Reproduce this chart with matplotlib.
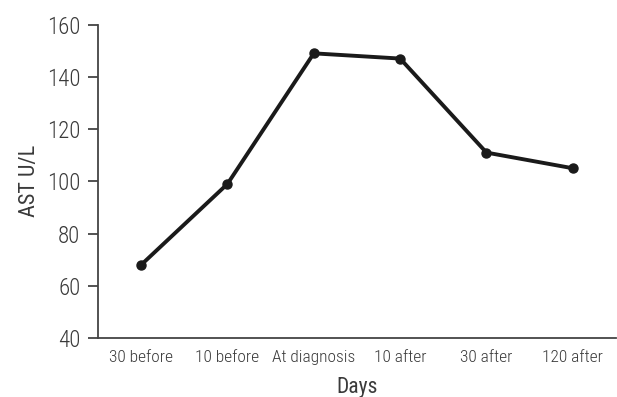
import matplotlib
matplotlib.use("Agg")
import matplotlib.pyplot as plt
from matplotlib import font_manager as fm

days = ["30 before", "10 before", "At diagnosis", "10 after", "30 after", "120 after"]
ast = [68, 99, 149, 147, 111, 105]
yticks = [40, 60, 80, 100, 120, 140, 160]

# pick a light condensed face, close to the one in the original figure
candidates = ["Roboto Condensed", "Open Sans Condensed", "Fira Sans Condensed",
              "IBM Plex Sans Condensed", "Barlow Condensed", "Encode Sans Condensed",
              "Asap Condensed", "PT Sans Narrow", "Archivo Narrow",
              "Liberation Sans Narrow", "DejaVu Sans"]
weights = {}
for f in fm.fontManager.ttflist:
    if f.style == "normal" and isinstance(f.weight, int):
        weights.setdefault(f.name, set()).add(f.weight)


def pick():
    for lim in (300, 400):
        for c in candidates:
            ok = [w for w in weights.get(c, ()) if w <= lim and w >= 250]
            if ok:
                return c, max(ok)
    return "DejaVu Sans", 400


face, weight = pick()
plt.rcParams["font.family"] = [face, "DejaVu Sans"]
plt.rcParams["font.weight"] = weight

text_color = "#3a3a3a"

fig = plt.figure(figsize=(6.17, 3.97), dpi=100)
ax = fig.add_axes([0.1588, 0.1486, 0.8395, 0.7894])

x = list(range(len(days)))
ax.plot(x, ast, color="#1a1a1a", lw=2.8, marker="o", ms=6.5, mfc="#1a1a1a", mec="#1a1a1a")

ax.set_xlim(-0.5, len(days) - 0.5)
ax.set_ylim(40, 160)
ax.set_yticks(yticks)
ax.set_xticks(x)
ax.set_xticklabels(days)

for s in ("top", "right"):
    ax.spines[s].set_visible(False)
for s in ("left", "bottom"):
    ax.spines[s].set_color("#444444")
    ax.spines[s].set_linewidth(1.3)

ax.tick_params(axis="y", direction="out", length=7.2, width=1.3, color="#444444",
               labelsize=16.5, labelcolor=text_color, pad=5.5)
ax.tick_params(axis="x", length=0, labelsize=12.5, labelcolor=text_color, pad=8.5)

ax.set_ylabel("AST U/L", fontsize=16, color=text_color, labelpad=5)
ax.set_xlabel("Days", fontsize=15.5, color=text_color, labelpad=9)

fig.savefig("out.png", dpi=100)
